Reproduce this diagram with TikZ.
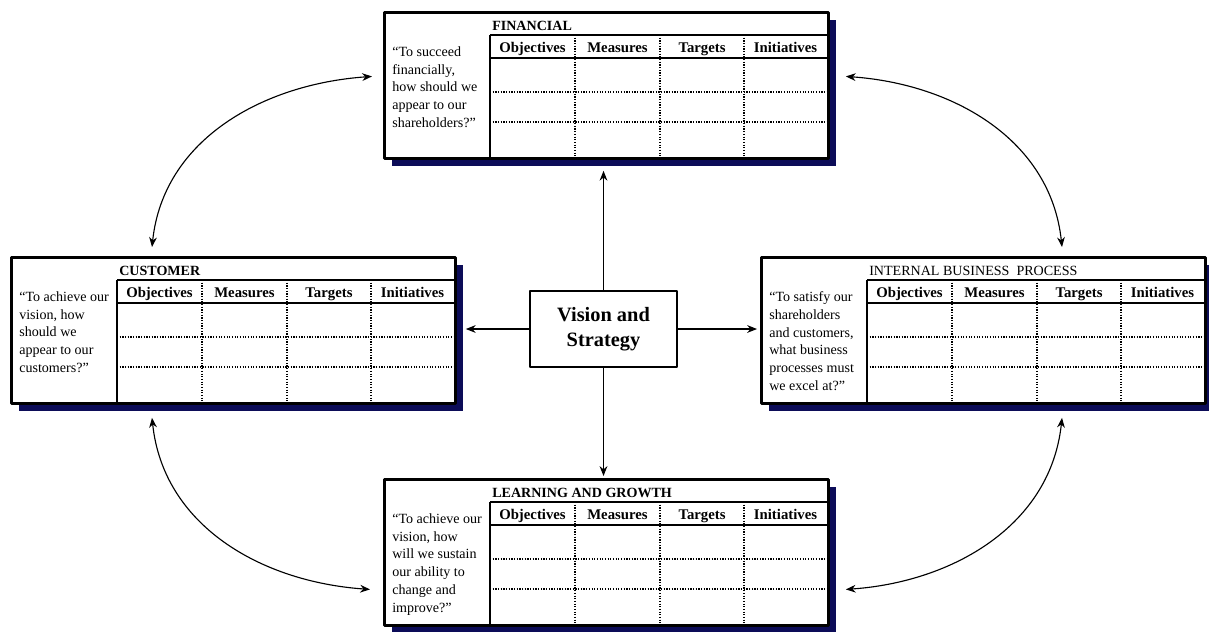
\documentclass[tikz,border=0pt]{standalone}
\usepackage{fontspec}
\setmainfont{Liberation Serif}
\usetikzlibrary{arrows.meta,shadows}
\definecolor{bscnavy}{RGB}{12,12,88}

\tikzset{
  panel/.style={draw, line width=2pt, fill=white, anchor=north west, inner sep=0pt,
    minimum width=111mm, minimum height=36.5mm,
    drop shadow={shadow xshift=2mm, shadow yshift=-2mm, fill=bscnavy, opacity=1}},
  tabline/.style={line width=1.2pt},
  cellline/.style={line width=0.9pt, densely dotted},
  hdr/.style={anchor=base, inner sep=0pt, font=\fontsize{10.5}{12}\selectfont\bfseries},
  question/.style={anchor=north west, align=left, inner sep=0pt},
  vision/.style={draw, line width=1.1pt, minimum width=36.75mm, minimum height=19mm,
    align=center, font=\fontsize{14.5}{17.8}\selectfont\bfseries},
  spoke/.style={line width=0.8pt, ->},
  link/.style={line width=0.8pt, <->},
}

\newcommand{\bscpanel}[4]{%
  \node[panel] (#1) at (#2) {};
  \begin{scope}[shift={(#1.north west)}]
    \draw[tabline] (107,-24) -- (444,-24);
    \draw[tabline] (107,-47) -- (444,-47);
    \draw[tabline] (107,-24) -- (107,-146);
    \foreach \r in {81,111} \draw[cellline] (107,-\r) -- (444,-\r);
    \foreach \c in {192,277,361} \draw[cellline] (\c,-24) -- (\c,-146);
    \node[anchor=base west, inner sep=0pt] (#1-title) at (109,-19) {#3};
    \foreach \h/\c [count=\i] in {Objectives/149.5,Measures/234.5,Targets/319,Initiatives/402.5}
      \node[hdr] (#1-h\i) at (\c,-41.5) {\h};
    \node[question] (#1-q) at (9,-35.5) {#4};
  \end{scope}
}

\begin{document}
\begin{tikzpicture}[x=0.25mm, y=0.25mm, font=\fontsize{10}{12.6}\selectfont, line join=round, >={Stealth[length=7pt,width=5.5pt]}]
  \useasboundingbox (0,0) rectangle (1209,-631);

  \bscpanel{fin}{383,-11}{\textbf{FINANCIAL}}{“To succeed\\financially,\\how should we\\appear to our\\shareholders?”}
  \bscpanel{cust}{10,-256}{\textbf{CUSTOMER}}{“To achieve our\\vision, how\\should we\\appear to our\\customers?”}
  \bscpanel{int}{760,-256}{INTERNAL BUSINESS\ \ PROCESS}{“To satisfy our\\shareholders\\and customers,\\what business\\processes must\\we excel at?”}
  \bscpanel{learn}{383,-478}{\textbf{LEARNING AND GROWTH}}{“To achieve our\\vision, how\\will we sustain\\our ability to\\change and\\improve?”}

  \node[vision] (vis) at (603.5,-329) {Vision and\\Strategy};

  \draw[spoke, shorten >=2.75mm] (vis.north) -- (vis.north |- fin.south);
  \draw[spoke, shorten >=0.5mm] (vis.south) -- (vis.south |- learn.north);
  \draw[spoke, shorten >=2.25mm] (vis.west) -- (vis.west -| cust.east);
  \draw[spoke, shorten >=0.75mm] (vis.east) -- (vis.east -| int.west);

  \draw[link] ([shift={(142,9)}]cust.north west) to[out=84,in=184] ([shift={(-11,9)}]fin.west);
  \draw[link] ([shift={(302,9)}]int.north west) to[out=96,in=-4] ([shift={(16,9)}]fin.east);
  \draw[link] ([shift={(142,-13)}]cust.south west) to[out=276,in=176] ([shift={(-13,-37)}]learn.west);
  \draw[link] ([shift={(302,-13)}]int.south west) to[out=264,in=4] ([shift={(16,-37)}]learn.east);
\end{tikzpicture}
\end{document}
